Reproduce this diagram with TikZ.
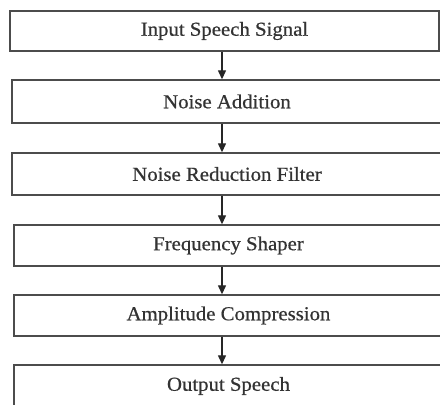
\documentclass[tikz,border=0pt]{standalone}
\usepackage{fontspec}
\setmainfont{Liberation Serif}
\newfontfamily\boxfont[FakeStretch=1.05,FakeBold=0.6]{Liberation Serif}
\usetikzlibrary{arrows.meta}
\begin{document}
\begin{tikzpicture}[x=1pt,y=-1pt,
  stepbox/.style={draw=black!70, line width=1.4pt, inner sep=0pt, fill=white,
    font=\boxfont\fontsize{19.8}{22}\selectfont, text=black!80},
  flow/.style={draw=black!85, line width=1.3pt, -{Triangle[length=9pt,width=8pt]}}]
\fill[white] (0,0) rectangle (440,405);
\useasboundingbox (0,0) rectangle (440,405);
\node[stepbox, minimum width=429pt, minimum height=40pt] (b1) at (224.5,31) {Input Speech Signal};
\node[stepbox, minimum width=430pt, minimum height=43pt] (b2) at (227,101.5) {Noise Addition};
\node[stepbox, minimum width=430pt, minimum height=42pt] (b3) at (227,174) {Noise Reduction Filter};
\node[stepbox, minimum width=429pt, minimum height=41pt] (b4) at (228.5,245.5) {Frequency Shaper};
\node[stepbox, minimum width=429pt, minimum height=41pt] (b5) at (228.5,315.5) {Amplitude Compression};
\node[stepbox, minimum width=429pt, minimum height=42pt] (b6) at (228.5,386) {Output Speech};
\coordinate (ax) at (222,0);
\draw[flow] (b1.south -| ax) -- (b2.north -| ax);
\draw[flow] (b2.south -| ax) -- (b3.north -| ax);
\draw[flow] (b3.south -| ax) -- (b4.north -| ax);
\draw[flow] (b4.south -| ax) -- (b5.north -| ax);
\draw[flow] (b5.south -| ax) -- (b6.north -| ax);
\end{tikzpicture}
\end{document}
